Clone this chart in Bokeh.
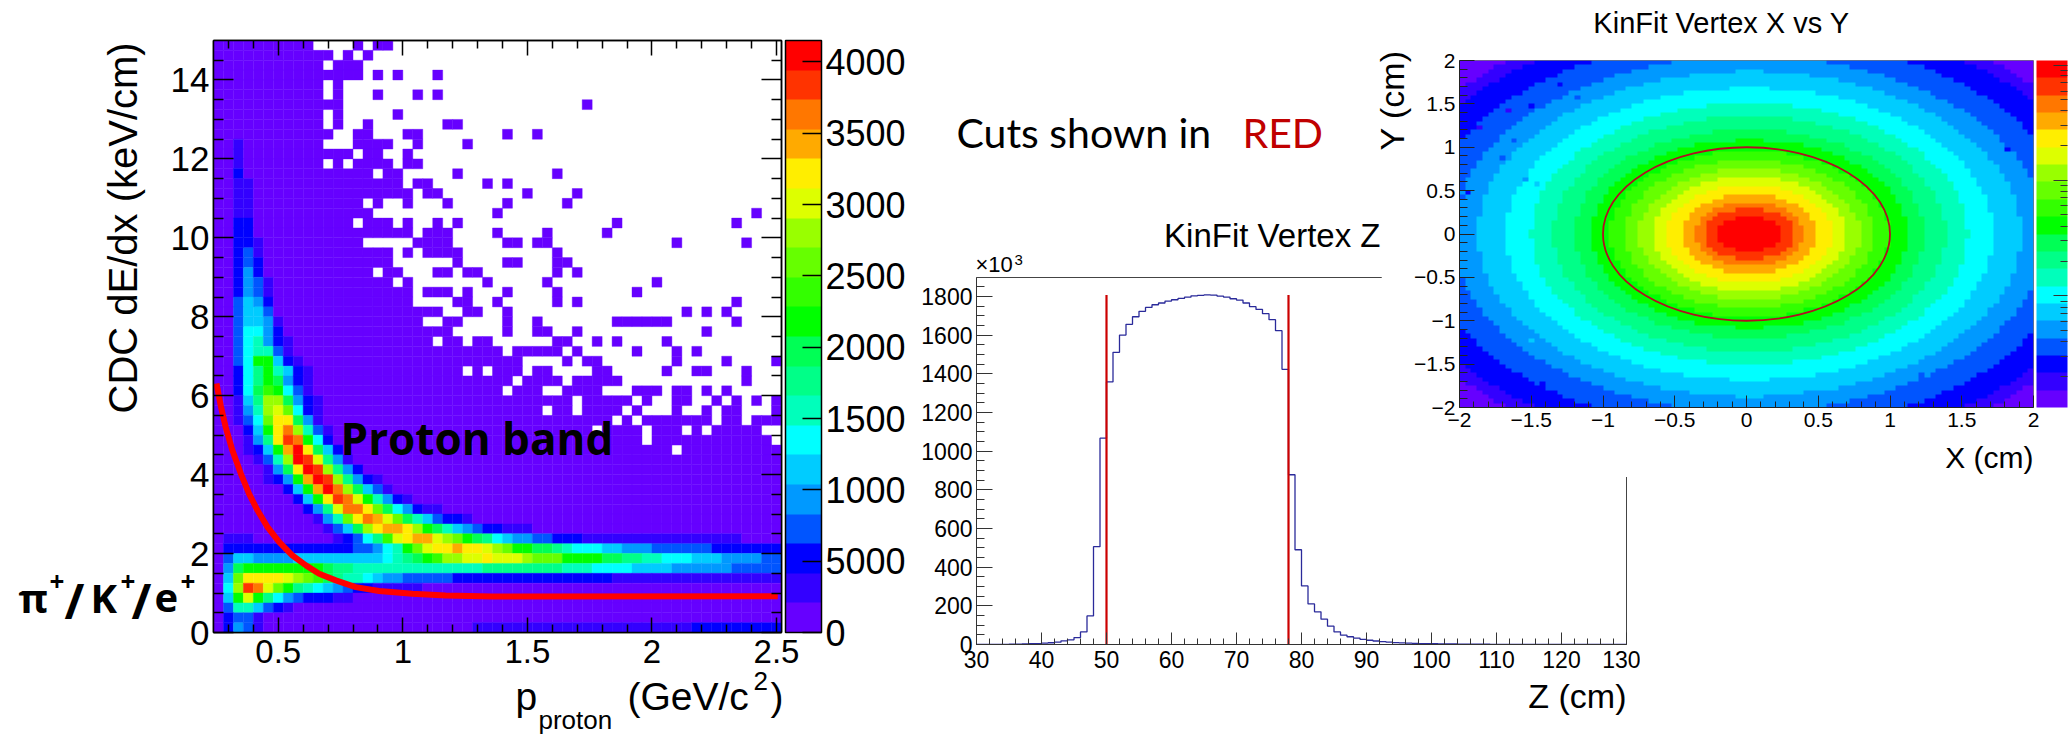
import math
import numpy as np
from bokeh.plotting import figure
from bokeh.models import (ColumnDataSource, ColorBar, FixedTicker, Label, LinearAxis,
                          LinearColorMapper, Range1d)
from bokeh.embed import file_html
from bokeh.resources import INLINE

FONT = "Liberation Sans"

PALETTE = ["#6600ff", "#3300ff", "#0000ff", "#0055ff", "#0099ff", "#00ccff", "#00ffff", "#00ffbb",
           "#00ff88", "#00ff55", "#00ff00", "#33ff00", "#66ff00", "#99ff00", "#ddff00", "#ffee00",
           "#ffaa00", "#ff7700", "#ff3300", "#ff0000"]
LETTERS = "abcdefghijklmnopqrst"

# ---------- Panel 1: dE/dx vs p; 57 x 60 cells, row 0 is the top row
P1_X_EDGE0, P1_DX, P1_NX = 0.24, 0.04, 57
P1_Y_TOP, P1_DY, P1_NY = 15.0, 0.25, 60
P1_COUNT_MAX = 4150
p1_white = {
0:"10-13,15,18-56",1:"12,14,16-56",2:"11,15-56",3:"15,17,19-21,23-56",4:"11,13-56",
5:"11,13-15,17-19,21,23-56",6:"13-36,38-56",7:"11,13-17,19-56",8:"11,13,14,16-22,25-56",
9:"12,13,16-18,21-28,30,31,33-56",10:"11-13,18,19,21-24,26-56",11:"14,17,18,20-56",
12:"11,13,18,21-56",13:"16,19-23,25-33,35-56",14:"19,22-26,28,30-56",15:"20,23-30,32-35,37-56",
16:"15,17,18,20-22,24-28,30-34,36-56",17:"16-27,29-53,55,56",18:"14,18,20,21,23,25-39,41-51,53-56",
19:"20,24-27,29-32,34-38,40-56",20:"15-19,24-28,31,34-45,47-52,54-56",21:"18,20,25-33,35-56",
22:"18-23,25-28,31-33,36-56",23:"16,19-21,24,27-33,35,37-56",24:"18,20-26,28-32,34-43,45-56",
25:"20,24,26-28,30-33,35-41,43-56",26:"20-23,26,27,29-33,35,37-51,53-56",
27:"23,24,27,28,30-46,48,50,52-56",28:"21,22,25-28,30,31,33-39,46-51,53-56",
29:"24-28,30,31,34,35,37-48,50-56",30:"22,25,28-33,36,37,39,41-44,46-56",
31:"29,35,37-41,43-45,47,49-56",32:"31-34,36,39-45,47-50,52-55",
33:"25,27,31,34-37,40-44,46,47,50-52,54-56",34:"30,35,41-52,54-56",
35:"29,33,34,39-41,45,48,50,52-56",36:"36,42,44,45,48,49,51,53,55",
37:"33,36,41,43-45,47,48,50,53-55",38:"40,42,50,53",39:"38,43,47,49,55,56",40:"43,56",41:"46",
}
p1_band = {
10:[(2,"b")],11:[(2,"b")],12:[(2,"b")],13:[(2,"c")],14:[(2,"bb")],15:[(2,"bb")],16:[(2,"bb")],
17:[(2,"bb")],18:[(2,"cc")],19:[(2,"cc")],20:[(2,"ccb")],21:[(2,"cdb")],22:[(2,"cdc")],
23:[(2,"cec")],24:[(2,"cedb")],25:[(2,"cedb")],26:[(2,"dfec")],27:[(2,"dffd")],28:[(2,"dffeb")],
29:[(2,"dggec")],30:[(2,"dghecb")],31:[(2,"dghhdb")],32:[(2,"dgkkfcb")],33:[(2,"cgikhfcb")],
34:[(2,"cgikjecb")],35:[(2,"cgjlkgdb")],36:[(2,"bfinnjecb")],37:[(2,"behnomgcb")],
38:[(2,"bdgmppjeb")],39:[(3,"cfkprnhdb")],40:[(3,"beipsrkgc")],41:[(3,"bcfkqtpjfc")],
42:[(4,"bdhntsoieb")],43:[(5,"bejptsniec")],44:[(5,"bcekqtsniecb")],45:[(7,"cfkqtrnjfdb")],
46:[(8,"cfkpsrokhecb")],47:[(9,"ceiorrpmjgecbb")],48:[(10,"behmprqomjhfdccb")],
49:[(11,"bdfjnpqqpnkjhfedccbbb")],
50:[(1,"bbb"),(12,"bcdgilopqqonmkjigfeeddccc"),(37,"bbbbbbbbbbbbbbbb")],
51:[(1,"ccccccccccc"),(12,"ccddeghkmoppqpponmkkjjihgggffeee"+"dddddd"+"ccccccc")],
52:[(1,"dffeeee"+"fffffffff"+"ghijklnnoop"+"ooo"+"nmmm"+"kkkk"+"jjiihhgggfff"+"eeeedd")],
53:[(1,"ej"+"kkkkkkkk"+"jii"+"hhhhhhhhhhhhh"+"iiiiiiii"+"hhh"+"gggg"+"ffff"+"eeeeee"+"ddddd")],
54:[(1,"fmpppponmljihhgfeeddddd"),(24,"cccccccccccccccc"),(40,"bbbbbbbbbbbbbbbbb")],
55:[(1,"gnsromkihgfedccbbbbb")],
56:[(1,"fkokigedcccbb")],
57:[(1,"dhhfdcb")],
58:[(1,"cddb")],
59:[(1,"cedb"),(26,"bbbbbbbbbbbbbbbbbbbbbb"),(48,"ccccccccc")],
}
curve_p = [0.252,0.269,0.289,0.316,0.350,0.383,0.417,0.457,0.504,0.557,0.611,0.664,0.731,0.811,0.905,1.038,1.172,1.359,2.505]
curve_dedx = [6.31,5.75,5.2,4.61,4.02,3.51,3.09,2.67,2.29,1.95,1.70,1.49,1.32,1.15,1.05,0.98,0.94,0.91,0.92]
p1_xticks = [0.5,1,1.5,2,2.5]
p1_xlabels = ["0.5","1","1.5","2","2.5"]
p1_xminor = [0.3,0.4,0.6,0.7,0.8,0.9,1.1,1.2,1.3,1.4,1.6,1.7,1.8,1.9,2.1,2.2,2.3,2.4]
p1_yticks = [0,2,4,6,8,10,12,14]
p1_yminor = [0.5,1,1.5,2.5,3,3.5,4.5,5,5.5,6.5,7,7.5,8.5,9,9.5,10.5,11,11.5,12.5,13,13.5,14.5]
p1_cbar_ticks = [0,500,1000,1500,2000,2500,3000,3500,4000]
p1_cbar_labels = ["0","5000","1000","1500","2000","2500","3000","3500","4000"]

# ---------- Panel 2: vertex Z histogram, one bin per cm from 30 to 130
z_edges = list(range(30, 131))
z_counts = [0,0,1,1,1,2,2,3,4,5, 7,9,12,19,24,36,65,148,506,1067,
            1358,1511,1600,1656,1695,1723,1743,1757,1766,1776,
            1783,1790,1796,1803,1806,1808,1807,1802,1797,1788,
            1781,1766,1747,1733,1711,1680,1623,1423,878,490,
            303,210,169,131,95,65,48,40,33,27,
            22,18,15,12,10,8,7,6,5,4, 4,3,3,3,2,2,2,2,2,1,
            1,1,1,1,1,1,1,1,1,1, 1,1,1,1,1,1,0,0,0,0]
z_cuts = [50, 78]
z_cut_top = [1808, 1808]
z_xticks = list(range(30, 131, 10))
z_xminor = [v for v in range(32, 130, 2) if v % 10]
z_yticks = list(range(0, 1801, 200))
z_yminor = [v for v in range(50, 1900, 50) if v % 200]

# ---------- Panel 3: X vs Y map, 100 x 80 cells. Half-width in cells of each colour band,
# by row counted outward from y = 0
xy_band_halfwidth = {
"b":[50]*33+[50,49,47,46,45,44,42],
"c":[50]*29+[50,49,48,47,46,45,43,42,41,39,37],
"d":[50]*21+[50,49,48,47,47,46,45,44,43,42,41,39,38,37,35,33,32,30,27],
"e":[50]*8+[50,50,49,49,49,48,48,47,47,46,46,45,44,43,43,42,41,40,39,38,37,35,34,32,31,29,27,25,23,20,17,13],
"f":[47,47,47,47,46,46,46,46,46,45,45,45,44,44,43,43,42,41,41,40,39,38,37,36,35,34,33,32,30,29,27,25,23,21,18,15,10,2],
"g":[42,42,42,42,42,41,41,41,41,40,40,39,39,38,38,37,37,36,35,34,33,32,31,30,29,27,26,24,22,20,18,15,11,3],
"h":[38,37,37,37,37,37,37,36,36,36,35,35,34,34,33,32,31,30,30,29,27,26,25,23,22,20,18,15,12,7],
"i":[34,34,34,33,33,33,33,32,32,32,31,30,30,29,28,28,27,26,25,23,22,20,19,17,14,11,7],
"j":[30,30,30,30,29,29,29,28,28,28,27,26,26,25,24,23,22,21,19,17,16,13,10,6],
"k":[27,27,27,27,26,26,26,25,25,24,24,23,22,21,20,19,17,16,14,12,9,2],
"l":[24,24,24,23,23,23,22,22,21,21,20,19,18,17,15,14,12,9,6],
"m":[21,21,21,21,20,20,20,19,18,18,17,16,14,13,11,9,5],
"n":[19,19,19,18,18,17,17,16,15,14,13,12,10,8,5],
"o":[16,16,16,16,15,15,14,13,12,11,10,8,5],
"p":[14,14,14,13,13,12,11,10,9,7,5],
"q":[11,11,11,10,10,9,8,6,4],
"r":[9,9,8,8,7,6,4],
"s":[7,7,7,6,5,2],
"t":[5,5,4,2],
}
xy_speckle = [(1,35,"e"),(3,25,"d"),(5,17,"c"),(8,20,"d"),(10,12,"c"),(11,8,"b"),(15,3,"b"),(18,3,"d"),
              (18,9,"d"),(22,7,"d"),(25,3,"e"),(30,1,"c"),(31,0,"d"),(28,13,"f"),(27,11,"e"),(33,12,"g"),
              (35,5,"f"),(3,70,"e"),(6,82,"d"),(12,90,"d"),(20,95,"c"),(70,6,"c"),(74,14,"c"),(60,4,"d"),
              (72,80,"d"),(66,93,"d"),(76,60,"e"),(64,12,"f")]
xy_ticks = [-2,-1.5,-1,-0.5,0,0.5,1,1.5,2]
xy_labels = ["\u22122","\u22121.5","\u22121","\u22120.5","0","0.5","1","1.5","2"]
xy_minor = [-1.9,-1.8,-1.7,-1.6,-1.4,-1.3,-1.2,-1.1,-0.9,-0.8,-0.7,-0.6,-0.4,-0.3,-0.2,-0.1,
            0.1,0.2,0.3,0.4,0.6,0.7,0.8,0.9,1.1,1.2,1.3,1.4,1.6,1.7,1.8,1.9]
cut_centre_x, cut_centre_y, cut_diameter = [0.0], [0.0], [2.0]
xy_cbar_major = [19.72, 13.1, 6.44]
xy_cbar_minor = [19.42,19.13,18.71,18.23,17.73,17.1,16.25,15.1,12.77,12.44,12.08,11.62,11.1,10.44,9.62,8.44,
                 6.13,5.79,5.4,4.96,4.42,3.79,2.96,1.81]


def parse_runs(s):
    out = []
    for part in s.split(","):
        if "-" in part:
            a, b = part.split("-")
            out.extend(range(int(a), int(b) + 1))
        else:
            out.append(int(part))
    return out


def style_axis(ax, major, minor, labels=None, label_size=None, standoff=5, maj=12, mnr=6, color="#000000", lw=1.0, font=FONT):
    ax.ticker = FixedTicker(ticks=major, minor_ticks=minor)
    ax.major_tick_in, ax.major_tick_out = maj, 0
    ax.minor_tick_in, ax.minor_tick_out = mnr, 0
    ax.major_tick_line_color = color
    ax.minor_tick_line_color = color
    ax.major_tick_line_width = lw
    ax.minor_tick_line_width = lw
    ax.axis_line_color = color
    ax.axis_line_width = lw
    if labels is None:
        ax.major_label_overrides = {k: "" for k in major}
        ax.major_label_text_font_size = "1px"
        ax.major_label_standoff = 0
    else:
        ax.major_label_overrides = dict(zip(major, labels))
        ax.major_label_text_font = font
        ax.major_label_text_font_size = f"{label_size}px"
        ax.major_label_text_color = "#000000"
        ax.major_label_standoff = standoff


def base_fig(x0, y0, w, h, xr, yr, l, r, t, b):
    p = figure(width=w, height=h, x_range=Range1d(*xr), y_range=Range1d(*yr), toolbar_location=None,
               output_backend="svg", min_border_left=l, min_border_right=r, min_border_top=t, min_border_bottom=b,
               background_fill_color="#ffffff", border_fill_color="#ffffff")
    p.grid.visible = False
    p.styles = {"position": "absolute", "left": f"{x0}px", "top": f"{y0}px"}
    return p


# ---------- Panel 1
p1 = base_fig(8, 8, 904, 720, (0.24, 2.52), (0, 15), 205, 131, 32, 96)
mapper1 = LinearColorMapper(palette=PALETTE, low=0, high=P1_COUNT_MAX)
lvl = [[0] * P1_NX for _ in range(P1_NY)]
for r, segs in p1_band.items():
    for start, letters in segs:
        for i, ch in enumerate(letters):
            if start + i < P1_NX:
                lvl[r][start + i] = LETTERS.index(ch)
for r, s in p1_white.items():
    for c in parse_runs(s):
        lvl[r][c] = -1
L, R, T, B, V = [], [], [], [], []
step = P1_COUNT_MAX / 20
for r in range(P1_NY):
    for c in range(P1_NX):
        if lvl[r][c] >= 0:
            L.append(P1_X_EDGE0 + c * P1_DX)
            R.append(P1_X_EDGE0 + (c + 1) * P1_DX)
            T.append(P1_Y_TOP - r * P1_DY)
            B.append(P1_Y_TOP - (r + 1) * P1_DY)
            V.append((lvl[r][c] + 0.5) * step)
p1.quad(left="l", right="r", top="t", bottom="b", source=ColumnDataSource(dict(l=L, r=R, t=T, b=B, v=V)),
        fill_color={"field": "v", "transform": mapper1}, line_color={"field": "v", "transform": mapper1},
        line_width=0.4)
p1.line(curve_p, curve_dedx, line_color="#ff0000", line_width=6)
p1.outline_line_color = "#000000"
p1.outline_line_width = 1.5
style_axis(p1.xaxis[0], p1_xticks, p1_xminor, p1_xlabels, 33, 7, 15, 8, lw=1.5)
style_axis(p1.yaxis[0], p1_yticks, p1_yminor, [str(v) for v in p1_yticks], 35, 4, 20, 10, lw=1.5)
top1 = LinearAxis()
style_axis(top1, p1_xticks, p1_xminor, None, maj=15, mnr=8, lw=1.5)
p1.add_layout(top1, "above")
right1 = LinearAxis()
style_axis(right1, p1_yticks, p1_yminor, None, maj=20, mnr=10, lw=1.5)
p1.add_layout(right1, "right")
cb1 = ColorBar(color_mapper=mapper1, width=36, height=592, padding=0, margin=0, location=(4, 0),
               ticker=FixedTicker(ticks=p1_cbar_ticks),
               major_label_overrides=dict(zip(p1_cbar_ticks, p1_cbar_labels)),
               major_label_text_font=FONT, major_label_text_font_size="36px", major_label_text_color="#000000",
               major_tick_in=19, major_tick_out=0, major_tick_line_color="#000000", major_tick_line_width=1.5,
               bar_line_color="#000000", bar_line_width=1.5, label_standoff=4, background_fill_color=None, border_line_color=None)
p1.add_layout(cb1, "right")

# ---------- Panel 2
p2 = base_fig(912, 8, 728, 720, (30, 130), (0, 1898), 64, 14, 269, 84)
p2.step(z_edges, z_counts + [0], mode="after", line_color="#2a2a9a", line_width=1.3)
p2.segment(x0=z_cuts, y0=[0, 0], x1=z_cuts, y1=z_cut_top, line_color="#cc0000", line_width=2.2)
p2.outline_line_color = "#444444"
p2.outline_line_width = 1
style_axis(p2.xaxis[0], z_xticks, z_xminor, [str(v) for v in z_xticks], 23, 6, 12, 6, color="#333333")
style_axis(p2.yaxis[0], z_yticks, z_yminor, [str(v) for v in z_yticks], 23, 4, 16, 8, color="#333333")

# ---------- Panel 3
p3 = base_fig(1381, 8, 689, 469, (-2, 2), (-2, 2), 78, 37, 52, 70)
mapper3 = LinearColorMapper(palette=PALETTE, low=0, high=20)
grid = np.zeros((80, 100))
for letter, widths in xy_band_halfwidth.items():
    idx = LETTERS.index(letter)
    for j, hw in enumerate(widths):
        lo, hi = max(0, 50 - hw), min(100, 50 + hw + 1)
        grid[39 - j, lo:hi] = idx
        grid[40 + j, lo:hi] = idx
for row, col, ch in xy_speckle:
    grid[row, col] = LETTERS.index(ch)
p3.image(image=[(grid[::-1] + 0.5)], x=-2, y=-2, dw=4, dh=4, color_mapper=mapper3)
p3.ellipse(x=cut_centre_x, y=cut_centre_y, width=cut_diameter, height=cut_diameter,
           fill_color=None, line_color="#b01020", line_width=1.8)
p3.outline_line_color = "#777777"
p3.outline_line_width = 1
style_axis(p3.xaxis[0], xy_ticks, xy_minor, xy_labels, 21, 5, 12, 6, color="#222222")
style_axis(p3.yaxis[0], xy_ticks, xy_minor, xy_labels, 21, 4, 15, 8, color="#222222")
cb3 = ColorBar(color_mapper=mapper3, width=31, height=347, padding=0, margin=0, location=(3, 0),
               ticker=FixedTicker(ticks=xy_cbar_major, minor_ticks=xy_cbar_minor),
               major_label_overrides={k: "" for k in xy_cbar_major},
               major_label_text_font_size="1px", label_standoff=0,
               major_tick_in=14, major_tick_out=0, minor_tick_in=7, minor_tick_out=0,
               major_tick_line_color="#333333", minor_tick_line_color="#333333",
               bar_line_color=None, background_fill_color=None, border_line_color=None)
p3.add_layout(cb3, "right")

# ---------- Transparent page-sized layer holding the free-standing texts (page-pixel coordinates)
ann = figure(width=2072, height=736, x_range=Range1d(0, 2072), y_range=Range1d(736, 0), toolbar_location=None,
             output_backend="svg", min_border=0, background_fill_color=None, border_fill_color=None,
             outline_line_color=None)
ann.axis.visible = False
ann.grid.visible = False
ann.styles = {"position": "absolute", "left": "0px", "top": "0px", "pointer-events": "none"}
SIDE = "Open Sans"
BL = 0.4  # the drawn baseline sits this many ems past the anchor
annotations = [
    (138, 413, "CDC dE/dx (keV/cm)", 40, "#000000", FONT, "normal", "left", math.pi / 2),
    (515, 712, "p", 39, "#000000", FONT, "normal", "left", 0),
    (538, 730, "proton", 26, "#000000", FONT, "normal", "left", 0),
    (627, 712, "(GeV/c", 39, "#000000", FONT, "normal", "left", 0),
    (753, 691, "2", 26, "#000000", FONT, "normal", "left", 0),
    (770, 712, ")", 39, "#000000", FONT, "normal", "left", 0),
    (340, 455, "Proton band", 44, "#000000", SIDE, "bold", "left", 0),
    (18, 613, "\u03c0", 40, "#000000", SIDE, "bold", "left", 0),
    (49, 591, "+", 26, "#000000", SIDE, "bold", "left", 0),
    (64, 619, "/", 48, "#000000", SIDE, "bold", "left", 0),
    (90, 613, "K", 40, "#000000", SIDE, "bold", "left", 0),
    (120, 591, "+", 26, "#000000", SIDE, "bold", "left", 0),
    (131, 619, "/", 48, "#000000", SIDE, "bold", "left", 0),
    (154, 613, "e", 40, "#000000", SIDE, "bold", "left", 0),
    (180, 591, "+", 26, "#000000", SIDE, "bold", "left", 0),
    (1380, 248, "KinFit Vertex Z", 33, "#000000", FONT, "normal", "right", 0),
    (975, 273, "\u00d710", 22, "#000000", FONT, "normal", "left", 0),
    (1014, 265, "3", 15, "#000000", FONT, "normal", "left", 0),
    (1626, 709, "Z (cm)", 34, "#000000", FONT, "normal", "right", 0),
    (956, 148, "Cuts shown in", 41, "#000000", "Lato", "normal", "left", 0),
    (1242, 148, "RED", 41, "#c00000", "Lato", "normal", "left", 0),
    (1721, 34, "KinFit Vertex X vs Y", 29, "#000000", FONT, "normal", "center", 0),
    (2033, 469, "X (cm)", 30, "#000000", FONT, "normal", "right", 0),
    (1405, 150, "Y (cm)", 34, "#000000", FONT, "normal", "left", math.pi / 2),
]
for x, y, text, size, color, font, style, align, angle in annotations:
    ax_, ay_ = (x - BL * size, y) if angle else (x, y - BL * size)
    ann.add_layout(Label(x=ax_, y=ay_, text=text, text_font=font, text_font_size=f"{size}px", text_font_style=style,
                         text_color=color, text_align=align, text_baseline="alphabetic", angle=angle))

open("out.html", "w").write(file_html([p1, p2, p3, ann], INLINE))
